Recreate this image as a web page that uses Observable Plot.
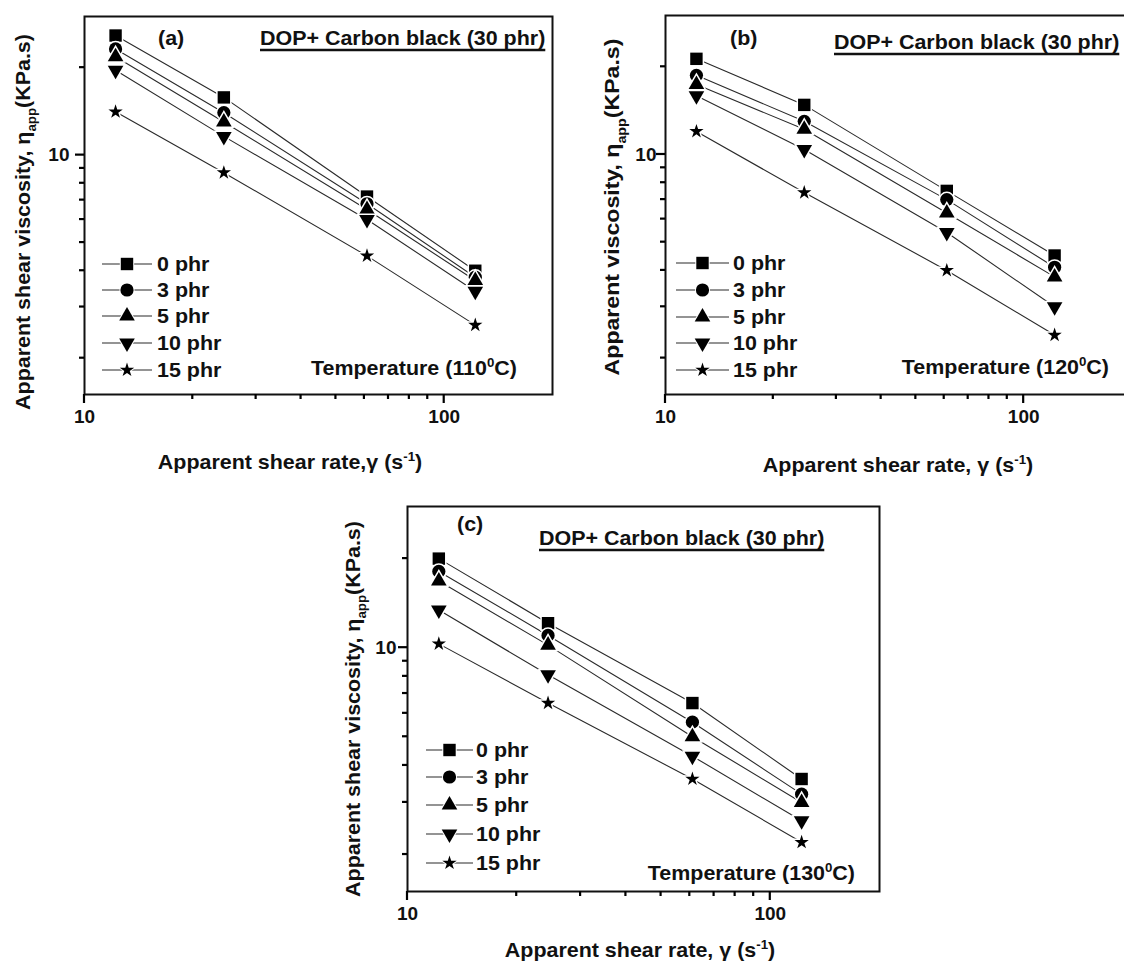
<!DOCTYPE html>
<html>
<head>
<meta charset="utf-8">
<script src="https://cdn.jsdelivr.net/npm/d3@7"></script>
<script src="https://cdn.jsdelivr.net/npm/@observablehq/plot@0.6"></script>
<style>
  html, body { margin: 0; padding: 0; background: #fff; width: 1124px; height: 964px; overflow: hidden; }
  #figure { position: relative; width: 1124px; height: 964px; overflow: hidden; }
  .panel { position: absolute; }
  .panel svg { overflow: visible; max-width: none !important; }
</style>
</head>
<body>
<div id="figure"></div>
<script>
// Apparent shear rate (s^-1) of the four capillary runs
const shearRate = [12.2, 24.4, 61, 122];

// Plasticiser loading of each series
const loadings = ["0 phr", "3 phr", "5 phr", "10 phr", "15 phr"];

// Apparent viscosity (kPa.s), one row per loading, at 110, 120 and 130 °C
const eta110 = [
  [25.8, 15.8, 7.2, 4.0],
  [23.2, 14.0, 6.8, 3.8],
  [21.8, 13.0, 6.5, 3.7],
  [19.6, 11.6, 6.0, 3.4],
  [14.1, 8.7, 4.5, 2.6]
];
const eta120 = [
  [21.3, 14.8, 7.5, 4.5],
  [18.7, 13.0, 7.0, 4.1],
  [17.4, 12.2, 6.3, 3.8],
  [15.9, 10.4, 5.4, 3.0],
  [12.0, 7.4, 4.0, 2.4]
];
const eta130 = [
  [20.0, 12.1, 6.5, 3.6],
  [18.1, 11.0, 5.6, 3.2],
  [16.8, 10.2, 5.0, 3.0],
  [13.4, 8.1, 4.3, 2.6],
  [10.3, 6.5, 3.6, 2.2]
];

// Axis ticks
const xMajor = [10, 100];
const xMinor = [20, 30, 40, 50, 60, 70, 80, 90];
const yMajor = [10];
const yMinor = [2, 3, 4, 5, 6, 7, 8, 9, 20];

// Downward-pointing triangle (mirror of d3.symbolTriangle)
const sqrt3 = Math.sqrt(3);
const symbolTriangleDown = {
  draw(context, size) {
    const y = Math.sqrt(size / (sqrt3 * 3));
    context.moveTo(0, y * 2);
    context.lineTo(-sqrt3 * y, -y);
    context.lineTo(sqrt3 * y, -y);
    context.closePath();
  }
};
const markerSymbols = [d3.symbolSquare, d3.symbolCircle, d3.symbolTriangle, symbolTriangleDown, d3.symbolStar];
const markerRadius = [7, 6.6, 5.8, 5.8, 4.5];

const FONT = '"Liberation Sans", Arial, Helvetica, sans-serif';
const STRETCH = 1.1;
const MAJOR_LEN = 9, MINOR_LEN = 5;

function addText(svg, {x, y, parts, anchor = "start", size = 19.5, rotate = 0, weight = "bold"}) {
  const g = d3.select(svg).append("g")
    .attr("transform", `translate(${x},${y}) rotate(${rotate}) scale(${STRETCH},1)`);
  const t = g.append("text")
    .attr("text-anchor", anchor)
    .attr("font-family", FONT)
    .attr("font-size", size)
    .attr("font-weight", weight)
    .attr("fill", "#111");
  let shift = 0;
  for (const p of parts) {
    const [str, kind] = typeof p === "string" ? [p, null] : p;
    const target = kind === "sub" ? 0.32 * size : kind === "sup" ? -0.42 * size : 0;
    const ts = t.append("tspan").text(str).attr("dy", target - shift);
    if (kind) ts.attr("font-size", size * 0.62);
    shift = target;
  }
  return {g, t};
}

function scaleFn(s) {
  return typeof s.apply === "function" ? v => s.apply(v) : d3.scaleLog(s.domain, s.range);
}

function drawPanel(cfg) {
  const rows = loadings.flatMap((s, j) => shearRate.map((x, i) => ({x, eta: cfg.eta[j][i], series: s})));
  const marks = [
    Plot.axisX(xMajor, {tickSize: 0, tickPadding: MAJOR_LEN + 6, tickFormat: d => String(d), label: null}),
    Plot.axisY(yMajor, {tickSize: 0, tickPadding: MAJOR_LEN + cfg.yPad, tickFormat: d => String(d), label: null}),
    ...loadings.map(s => Plot.line(rows, {filter: d => d.series === s, x: "x", y: "eta", stroke: "#2a2a2a", strokeWidth: 1.1})),
    ...loadings.map((s, j) => Plot.dot(rows, {
      filter: d => d.series === s, x: "x", y: "eta",
      symbol: markerSymbols[j], r: markerRadius[j],
      fill: "#000", stroke: "#fff", strokeWidth: 3, paintOrder: "stroke"
    })),
    Plot.frame({stroke: "#111", strokeWidth: 2})
  ];
  const chart = Plot.plot({
    width: cfg.width, height: cfg.height,
    marginTop: cfg.m[0], marginRight: cfg.m[1], marginBottom: cfg.m[2], marginLeft: cfg.m[3],
    x: {type: "log", domain: [10, 200]},
    y: {type: "log", domain: [1.5, 30]},
    style: {fontFamily: FONT, fontSize: "19px", fontWeight: "bold", color: "#111"},
    marks
  });
  const holder = document.createElement("div");
  holder.className = "panel";
  holder.style.left = cfg.left + "px";
  holder.style.top = cfg.top + "px";
  holder.style.width = cfg.width + "px";
  holder.style.height = cfg.height + "px";
  holder.appendChild(chart);
  document.getElementById("figure").appendChild(holder);
  const svg = chart;

  // outward tick marks on the bottom and left axes, placed by the plot's own scales
  const fx = scaleFn(chart.scale("x")), fy = scaleFn(chart.scale("y"));
  const bottom = cfg.height - cfg.m[2], left = cfg.m[3];
  const tg = d3.select(svg).append("g").attr("stroke", "#000").attr("stroke-width", 2.2);
  for (const [vals, len] of [[xMajor, MAJOR_LEN], [xMinor, MINOR_LEN]])
    for (const v of vals) tg.append("line").attr("x1", fx(v)).attr("x2", fx(v)).attr("y1", bottom).attr("y2", bottom + len);
  for (const [vals, len] of [[yMajor, MAJOR_LEN], [yMinor, MINOR_LEN]])
    for (const v of vals) tg.append("line").attr("y1", fy(v)).attr("y2", fy(v)).attr("x1", left).attr("x2", left - len);

  // axis titles
  addText(svg, {x: cfg.yTitle[0], y: cfg.yTitle[1], rotate: -90, anchor: "middle", size: cfg.ySize || 19.5,
    parts: [cfg.yText, "η", ["app", "sub"], "(KPa.s)"]});
  addText(svg, {x: cfg.xTitle[0], y: cfg.xTitle[1], anchor: "middle",
    parts: [cfg.xText, "γ (s", ["-1", "sup"], ")"]});

  // panel tag and sample label
  addText(svg, {x: cfg.tag[0], y: cfg.tag[1], parts: [cfg.tagText]});
  const dop = addText(svg, {x: cfg.dop[0], y: cfg.dop[1], parts: ["DOP+ Carbon black (30 phr)"]});
  const bb = dop.t.node().getBBox();
  dop.g.append("line")
    .attr("x1", bb.x).attr("x2", bb.x + bb.width)
    .attr("y1", 5).attr("y2", 5)
    .attr("stroke", "#111").attr("stroke-width", 2.4);

  // temperature note
  addText(svg, {x: cfg.temp[0], y: cfg.temp[1], anchor: "end",
    parts: ["Temperature (" + cfg.tempValue, ["0", "sup"], "C)"]});

  // legend
  const lg = d3.select(svg).append("g");
  loadings.forEach((s, j) => {
    const y = cfg.legend.rows[j];
    lg.append("line")
      .attr("x1", cfg.legend.x0).attr("x2", cfg.legend.x1)
      .attr("y1", y).attr("y2", y)
      .attr("stroke", "#2a2a2a").attr("stroke-width", 1.2);
    lg.append("path")
      .attr("transform", `translate(${(cfg.legend.x0 + cfg.legend.x1) / 2},${y})`)
      .attr("d", d3.symbol(markerSymbols[j], markerRadius[j] * markerRadius[j] * Math.PI)())
      .attr("fill", "#000").attr("stroke", "#fff").attr("stroke-width", 2)
      .attr("paint-order", "stroke");
    addText(svg, {x: cfg.legend.xt, y: y + 7, parts: [s]});
  });
}

drawPanel({
  eta: eta110, tempValue: "110", tagText: "(a)",
  left: 0, top: 0, width: 580, height: 480, m: [16, 28, 86, 84], yPad: 6,
  yText: "Apparent shear viscosity, ", xText: "Apparent shear rate,",
  yTitle: [30, 222], xTitle: [290, 469],
  tag: [158, 45], dop: [260, 45], temp: [517, 375],
  legend: {x0: 102, x1: 152, xt: 157, rows: [264, 290, 316, 343, 370]}
});

drawPanel({
  eta: eta120, tempValue: "120", tagText: "(b)",
  left: 580, top: 0, width: 571, height: 480, m: [15, 20, 86, 85], yPad: 0,
  yText: "Apparent viscosity, ", xText: "Apparent shear rate, ", ySize: 21,
  yTitle: [39, 207], xTitle: [318, 472],
  tag: [150, 45], dop: [254, 49], temp: [529, 374],
  legend: {x0: 96, x1: 149, xt: 153, rows: [263, 290, 317, 343, 370]}
});

drawPanel({
  eta: eta130, tempValue: "130", tagText: "(c)",
  left: 300, top: 490, width: 600, height: 474, m: [16, 21, 73, 107], yPad: 2,
  yText: "Apparent shear viscosity, ", xText: "Apparent shear rate, ",
  yTitle: [60, 219], xTitle: [340, 467],
  tag: [157, 41], dop: [239, 55], temp: [555, 390],
  legend: {x0: 126, x1: 173, xt: 176, rows: [260, 287, 315, 344, 373]}
});
</script>
</body>
</html>
